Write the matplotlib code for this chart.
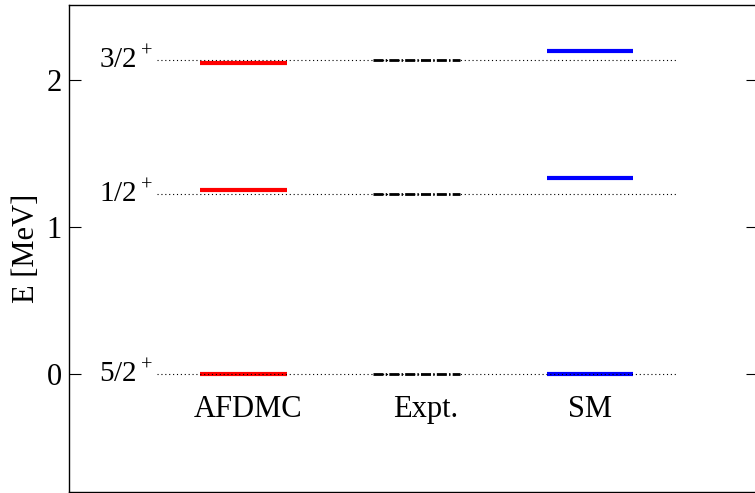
import matplotlib
matplotlib.use("Agg")
import matplotlib.pyplot as plt

plt.rcParams['font.family'] = ['Liberation Serif', 'DejaVu Serif']
plt.rcParams['mathtext.fontset'] = 'custom'
plt.rcParams['mathtext.rm'] = 'Liberation Serif'
plt.rcParams['lines.scale_dashes'] = False

# level energies in MeV
states = [r'5/2$^+$', r'1/2$^+$', r'3/2$^+$']
afdmc = [0.0, 1.25, 2.115]
expt = [0.0, 1.222, 2.135]
sm = [0.0, 1.335, 2.197]
methods = ['AFDMC', 'Expt.', 'SM']
centers = [2, 4, 6]
label_x = [2.05, 4.1, 6.0]

fig = plt.figure(figsize=(7.55, 4.93), dpi=100)
ax = fig.add_axes([69 / 755, 1.5 / 493, 689 / 755, 486.5 / 493])

# reference dotted lines at experimental levels
for e in expt:
    ax.plot([1, 7], [e, e], color='k', lw=0.8, dashes=(0.8, 2.0), zorder=3)

half = 0.5
for e in afdmc:
    ax.plot([centers[0] - half, centers[0] + half], [e, e], color='#ff0000', lw=3.0,
            solid_capstyle='butt', zorder=2)
for e in expt:
    ax.plot([centers[1] - half, centers[1] + half], [e, e], color='k', lw=2.0,
            dashes=(7.2, 1.6, 1.0, 1.6), dash_capstyle='butt', zorder=2)
for e in sm:
    ax.plot([centers[2] - half, centers[2] + half], [e, e], color='#0000ff', lw=3.0,
            solid_capstyle='butt', zorder=2)

for s, e in zip(states, expt):
    ax.text(0.95, e, s, ha='right', va='center', fontsize=21)

for c, m in zip(label_x, methods):
    ax.text(c, -0.29, m, ha='center', va='baseline', fontsize=22)

ax.set_xlim(-0.015, 7.94)
ax.set_ylim(-0.8, 2.51)
ax.set_xticks([])
ax.set_yticks([0, 1, 2])
ax.tick_params(axis='y', direction='in', length=8.5, width=0.8, labelsize=22,
               right=True, pad=5)
ax.set_ylabel('E [MeV]', fontsize=22, labelpad=4)
for sp in ax.spines.values():
    sp.set_linewidth(1.0)

fig.savefig('out.png', dpi=100)
